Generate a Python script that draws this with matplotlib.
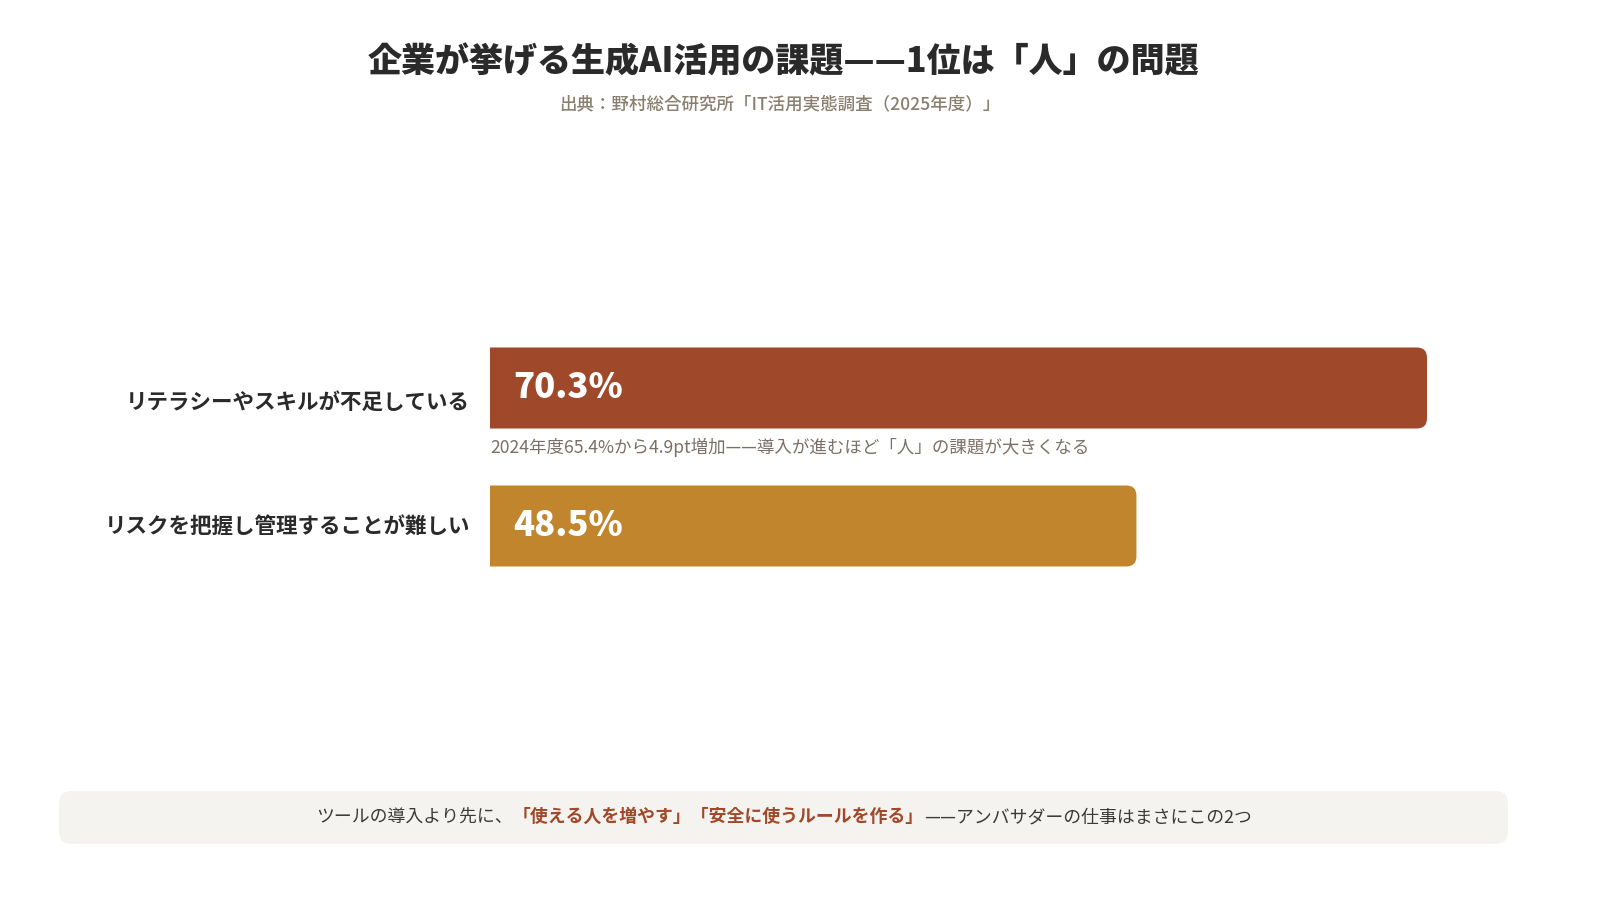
import matplotlib.pyplot as plt
from matplotlib.patches import FancyBboxPatch

plt.rcParams['font.family'] = ['Noto Sans CJK JP', 'DejaVu Sans']

categories = ['リテラシーやスキルが不足している', 'リスクを把握し管理することが難しい']
values = [70.3, 48.5]
colors = ['#A0492A', '#C0852D']
note = '2024年度65.4%から4.9pt増加——導入が進むほど「人」の課題が大きくなる'
title = '企業が挙げる生成AI活用の課題——1位は「人」の問題'
source = '出典：野村総合研究所「IT活用実態調査（2025年度）」'
footer_parts = [('ツールの導入より先に、', '#3a3a3a', 'normal'),
                ('「使える人を増やす」「安全に使うルールを作る」', '#A0492A', 'bold'),
                ('——アンバサダーの仕事はまさにこの2つ', '#3a3a3a', 'normal')]

W, H = 1600, 900
fig = plt.figure(figsize=(16, 9), dpi=100)
fig.patch.set_facecolor('white')

# axes placed in pixels (top-origin) -> figure fraction
ax_left, ax_right = 490, 1427
ax_top, ax_bot = 300, 620
ax = fig.add_axes([ax_left / W, 1 - ax_bot / H, (ax_right - ax_left) / W, (ax_bot - ax_top) / H])
ax.set_xlim(0, max(values))
row_px = 138
bar_h = 81 / row_px
ax.set_ylim(1 + (ax_bot - 526) / row_px, -(388 - ax_top) / row_px)
ax.axis('off')

xpp = max(values) / (ax_right - ax_left)
ypp = 1 / row_px
radius_px = 10
for i, (v, c) in enumerate(zip(values, colors)):
    y0 = i - bar_h / 2
    # start left of the axes so the left corners get clipped square
    ax.add_patch(FancyBboxPatch((-3 * radius_px * xpp, y0), v + 3 * radius_px * xpp, bar_h,
                                boxstyle=f'round,pad=0,rounding_size={radius_px * xpp}',
                                mutation_aspect=ypp / xpp, fc=c, ec='none'))
    ax.text(23 * xpp, i, f'{v}%', color='white', fontsize=25, fontweight='black',
            va='center', ha='left')
    dy = 14 * ypp if i == 0 else 0
    ax.text(-20 * xpp, i + dy, categories[i], ha='right', va='center', fontsize=15.5,
            fontweight='bold', color='#2a2a2a', clip_on=False)

ax.text(0, 0 + bar_h / 2 + 19 * ypp, note, ha='left', va='center', fontsize=12.6,
        color='#7a7068', clip_on=False)

fig.text(784 / W, 1 - 62 / H, title, ha='center', va='center', fontsize=24.5,
         fontweight='black', color='#2a2a2a')
fig.text(780 / W, 1 - 104 / H, source, ha='center', va='center', fontsize=12.6,
         fontweight='medium', color='#8a7e6e')

# footer box
fig.patches.append(FancyBboxPatch((59 / W, 1 - 844 / H), (1508 - 59) / W, 53 / H,
                                  boxstyle='round,pad=0,rounding_size=0.008',
                                  mutation_aspect=16 / 9, fc='#F4F3EF', ec='none',
                                  transform=fig.transFigure, figure=fig))

renderer = fig.canvas.get_renderer()
texts = []
for s, c, wgt in footer_parts:
    t = fig.text(0, 1 - 817 / H, s, color=c, fontweight=wgt, fontsize=12.85, va='center', ha='left')
    texts.append(t)
widths = [t.get_window_extent(renderer).width for t in texts]
x = (784 - sum(widths) / 2)
for t, w in zip(texts, widths):
    t.set_x(x / W)
    x += w

fig.savefig('out.png', dpi=100, facecolor='white')
